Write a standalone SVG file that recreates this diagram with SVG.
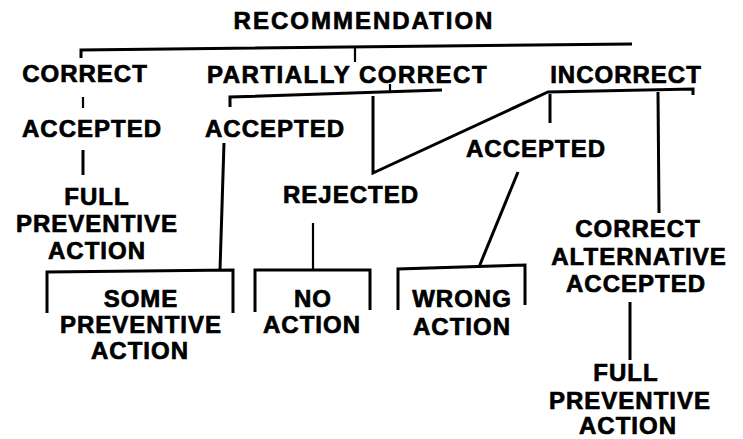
<svg xmlns="http://www.w3.org/2000/svg" width="743" height="439" viewBox="0 0 743 439">
<style>
  text { font-family: "Liberation Sans", Arial, sans-serif; font-weight: bold; font-size: 24px; fill: #000; letter-spacing: 1px; stroke: #000; stroke-width: 0.7px; }
  .mid { text-anchor: middle; }
  .title { letter-spacing: 2px; }
  .wide { letter-spacing: 1.5px; }
  .ln { fill: none; stroke: #000; stroke-width: 3; stroke-linejoin: miter; stroke-linecap: butt; }
  .thin { stroke-width: 2.2; }
</style>
<rect width="743" height="439" fill="#fff"/>
<g id="connectors">
  <path class="ln" d="M81,58 L81,50 L632,44"/>
  <path class="ln thin" d="M355,47 L355,62"/>
  <path class="ln thin" d="M83,97 L83,108"/>
  <path class="ln" d="M83,150 L83,175"/>
  <path class="ln" d="M230,107 L230,97 L442,90"/>
  <path class="ln thin" d="M390,84 L390,92"/>
  <path class="ln" d="M373,96 L373,173 L548,92 L693,89 L693,95"/>
  <path class="ln" d="M550,94 L550,123"/>
  <path class="ln" d="M658,92 L659,213"/>
  <path class="ln" d="M224,143 L220,270"/>
  <path class="ln" d="M47,313 L47,272 L233,270 L233,313"/>
  <path class="ln thin" d="M313,223 L313,269"/>
  <path class="ln" d="M255,312 L255,270 L370,270 L370,310"/>
  <path class="ln" d="M518,172 L479,267"/>
  <path class="ln" d="M398,310 L398,269 L525,265 L525,305"/>
  <path class="ln" d="M630,302 L630,360"/>
</g>
<g id="recommendation"><text class="mid title" x="364" y="29">RECOMMENDATION</text></g>
<g id="correct"><text class="mid" x="85" y="82">CORRECT</text></g>
<g id="partially-correct"><text class="wide" x="207" y="83">PARTIALLY CORRECT</text></g>
<g id="incorrect"><text class="mid" x="626" y="83">INCORRECT</text></g>
<g id="accepted-correct"><text x="22" y="137">ACCEPTED</text></g>
<g id="accepted-partial"><text x="205" y="137">ACCEPTED</text></g>
<g id="accepted-incorrect"><text x="466" y="157">ACCEPTED</text></g>
<g id="rejected"><text x="283" y="203">REJECTED</text></g>
<g id="full-preventive-left"><text class="mid" x="97" y="205">FULL</text><text class="mid" x="97" y="232">PREVENTIVE</text><text class="mid" x="97" y="259">ACTION</text></g>
<g id="some-preventive"><text class="mid" x="141" y="307">SOME</text><text class="mid" x="141" y="333">PREVENTIVE</text><text class="mid" x="140" y="359">ACTION</text></g>
<g id="no-action"><text class="mid" x="313" y="307">NO</text><text class="mid" x="312" y="333">ACTION</text></g>
<g id="wrong-action"><text class="mid" x="462" y="307">WRONG</text><text class="mid" x="462" y="335">ACTION</text></g>
<g id="correct-alternative"><text class="mid" x="638" y="237">CORRECT</text><text class="mid" x="639" y="265">ALTERNATIVE</text><text class="mid" x="636" y="292">ACCEPTED</text></g>
<g id="full-preventive-right"><text class="mid" x="626" y="381">FULL</text><text class="mid" x="630" y="409">PREVENTIVE</text><text class="mid" x="628" y="434">ACTION</text></g>
</svg>
